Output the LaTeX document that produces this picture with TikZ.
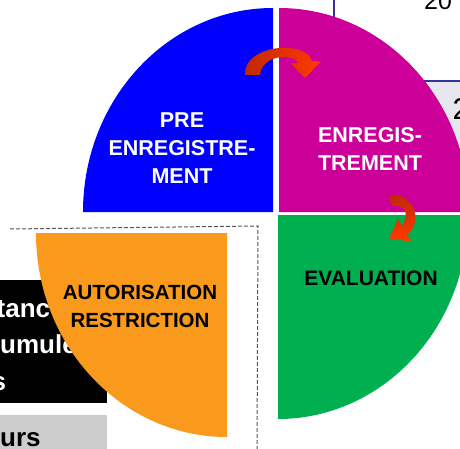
\documentclass[tikz,border=0pt]{standalone}
\usepackage{fontspec}
\setmainfont{Liberation Sans}
\definecolor{qblue}{HTML}{0000FF}
\definecolor{qmagenta}{HTML}{CC0099}
\definecolor{qgreen}{HTML}{00B050}
\definecolor{qorange}{HTML}{F99A1C}
\definecolor{navyline}{HTML}{333399}
\definecolor{panelgray}{HTML}{E6E6EE}
\definecolor{boxgray}{HTML}{CCCCCC}
\definecolor{dashgray}{HTML}{555555}
\definecolor{arrowdark}{HTML}{C02800}
\definecolor{arrowlight}{HTML}{FF3A00}
\definecolor{caret}{HTML}{B040A0}
\begin{document}
\begin{tikzpicture}[x=1pt,y=1pt,
  lbl/.style={inner sep=0pt, align=center, font=\bfseries\fontsize{21.5}{28}\selectfont},
  sidetxt/.style={inner sep=0pt, anchor=base west, font=\bfseries\fontsize{26}{30}\selectfont},
  numtxt/.style={inner sep=0pt, anchor=base west},
  panel/.style={draw=navyline, line width=2pt},
  dashframe/.style={draw=dashgray, line width=1pt, dash pattern=on 4pt off 2pt}
]
\useasboundingbox (0,0) rectangle (460,448);
\begin{scope}
\clip (0,0) rectangle (460,448);

% table panels behind the pie (top right)
\path[panel, fill=white] (334,367) rectangle (475,470);
\path[panel, fill=panelgray] (380,367) rectangle (475,250);
\node[numtxt, font=\fontsize{25}{30}\selectfont] (num20) at (424,438) {20};
\node[numtxt, font=\fontsize{30}{34}\selectfont] (num2) at (452.5,328) {2};

% left-hand boxes
\fill[black] (-5,45) rectangle (107,168);
\fill[boxgray] (-5,-5) rectangle (107,33);
\node[sidetxt, text=white] (w1) at (-3.5,131) {tanc};
\node[sidetxt, text=white] (w2) at (0,95) {umule};
\node[sidetxt, text=white] (w3) at (-8.5,58) {s};
\node[sidetxt, text=black] (w4) at (0,2) {urs};

% dashed frame around the detached slice
\draw[dashframe] (10,219) -- (258,222) -- (257,-5);

% the four slices
\fill[qblue] (273,236) -- (83,236) arc[start angle=180, end angle=90, x radius=190pt, y radius=204pt] -- cycle;
\fill[qmagenta] (279,236) -- (279,440) arc[start angle=90, end angle=0, x radius=190pt, y radius=204pt] -- cycle;
\fill[qgreen] (278,233) -- (468,233) arc[start angle=0, end angle=-90, x radius=190pt, y radius=204pt] -- cycle;
\fill[qorange] (227,215) -- (227,11) arc[start angle=-90, end angle=-180, x radius=191pt, y radius=204pt] -- cycle;

% slice labels
\node[lbl, text=white] (pre) at (182,299.5) {PRE\\ENREGISTRE-\\MENT};
\node[lbl, text=white] (enr) at (370,299) {ENREGIS-\\TREMENT};
\node[lbl, text=black, font=\bfseries\fontsize{21}{28}\selectfont] (eval) at (371,170) {EVALUATION};
\node[lbl, text=black, font=\bfseries\fontsize{20.5}{28}\selectfont] (auto) at (140,141.5) {AUTORISATION\\RESTRICTION};
\draw[caret, line width=1pt] (303,179) -- (303,156);

% curved arrows between the stages
\shade[left color=arrowdark, right color=arrowlight]
  (245,373) .. controls (243,403) and (305,409) .. (312,387)
  -- (321,386.5) -- (305,370) -- (291,384.5) -- (298,385)
  .. controls (296,394) and (262,395) .. (260,373) -- cycle;
\shade[top color=arrowdark, bottom color=arrowlight]
  (389,253) .. controls (411,256) and (425,230) .. (407.5,213)
  -- (411,206.5) -- (389,209.5) -- (398,229) -- (402.3,222)
  .. controls (410,236) and (404,244) .. (392,242) -- cycle;
\end{scope}
\end{tikzpicture}
\end{document}
